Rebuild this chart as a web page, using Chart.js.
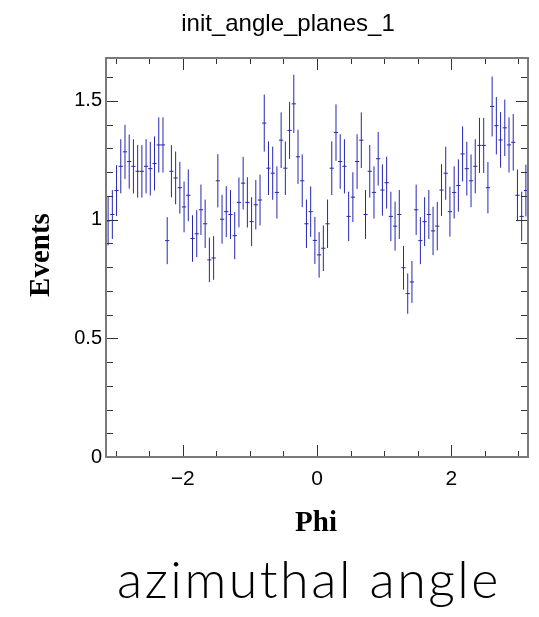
<!DOCTYPE html>
<html>
<head>
<meta charset="utf-8">
<script src="https://cdn.jsdelivr.net/npm/chart.js"></script>
<style>
  html, body { margin: 0; padding: 0; background: #fff; }
  #wrap { position: relative; width: 539px; height: 617px; }
</style>
</head>
<body>
<div id="wrap"><canvas id="phiChart"></canvas></div>
<script>
// Histogram: 100 bins over [-pi, pi]
const nBins = 100;
const binLow = -Math.PI;
const binHigh = Math.PI;

// Bin contents
const values = [
    0.994, 1.021, 1.122, 1.224, 1.285, 1.244, 1.224, 1.203, 1.203, 1.224,
    1.214, 1.236, 1.314, 1.314, 0.911, 1.203, 1.175, 1.134, 1.053, 1.102,
    0.920, 0.940, 1.041, 0.982, 0.830, 0.838, 1.163, 1.001, 1.033, 1.021,
    0.932, 1.072, 1.153, 1.072, 0.991, 1.062, 1.082, 1.406, 1.216, 1.195,
    1.114, 1.334, 1.216, 1.375, 1.487, 1.264, 1.163, 0.982, 1.033, 0.912,
    0.851, 0.879, 0.982, 1.216, 1.366, 1.244, 1.224, 1.013, 1.094, 1.244,
    1.334, 1.021, 1.203, 1.114, 1.256, 1.124, 1.155, 1.013, 0.972, 1.021,
    0.797, 0.688, 0.737, 1.041, 0.911, 0.991, 1.021, 0.952, 0.972, 1.124,
    1.195, 1.033, 1.114, 1.143, 1.276, 1.214, 1.163, 1.224, 1.312, 1.312,
    1.134, 1.476, 1.395, 1.335, 1.386, 1.314, 1.325, 1.102, 1.013, 1.122
];

// Error bar half lengths
const errors = [
    0.103, 0.103, 0.107, 0.114, 0.114, 0.114, 0.114, 0.111, 0.110, 0.114,
    0.113, 0.114, 0.116, 0.116, 0.099, 0.110, 0.111, 0.109, 0.107, 0.109,
    0.098, 0.099, 0.106, 0.102, 0.094, 0.092, 0.112, 0.103, 0.107, 0.103,
    0.099, 0.105, 0.111, 0.106, 0.103, 0.104, 0.107, 0.120, 0.113, 0.112,
    0.110, 0.117, 0.113, 0.120, 0.123, 0.114, 0.111, 0.102, 0.106, 0.099,
    0.096, 0.096, 0.102, 0.113, 0.119, 0.115, 0.114, 0.104, 0.105, 0.115,
    0.117, 0.103, 0.111, 0.110, 0.113, 0.108, 0.109, 0.104, 0.103, 0.103,
    0.092, 0.085, 0.088, 0.106, 0.099, 0.103, 0.103, 0.102, 0.102, 0.109,
    0.112, 0.105, 0.110, 0.110, 0.116, 0.113, 0.111, 0.114, 0.116, 0.116,
    0.108, 0.126, 0.121, 0.117, 0.119, 0.116, 0.119, 0.109, 0.104, 0.109
];

// Axis ticks
const xMajor = [-2, 0, 2];
const xMinor = [-3, -2.5, -1.5, -1, -0.5, 0.5, 1, 1.5, 2.5, 3];
const yMajor = [0, 0.5, 1, 1.5];
const yMinor = [0.1, 0.2, 0.3, 0.4, 0.6, 0.7, 0.8, 0.9, 1.1, 1.2, 1.3, 1.4, 1.6];

const binWidth = (binHigh - binLow) / nBins;
const points = values.map((v, i) => ({ x: binLow + (i + 0.5) * binWidth, y: v }));

// Error bars + bin-width markers
const errorBars = {
    id: 'errorBars',
    afterDatasetsDraw(chart) {
        const { ctx, scales: { x, y } } = chart;
        ctx.save();
        ctx.strokeStyle = '#2626b4';
        ctx.lineWidth = 1;
        ctx.beginPath();
        points.forEach((p, i) => {
            const px = x.getPixelForValue(p.x);
            const py = y.getPixelForValue(p.y);
            ctx.moveTo(px, y.getPixelForValue(p.y + errors[i]));
            ctx.lineTo(px, y.getPixelForValue(p.y - errors[i]));
            ctx.moveTo(x.getPixelForValue(p.x - binWidth / 2), py);
            ctx.lineTo(x.getPixelForValue(p.x + binWidth / 2), py);
        });
        ctx.stroke();
        ctx.restore();
    }
};

// ROOT style frame with inner ticks, titles
const frameAndText = {
    id: 'frameAndText',
    afterDraw(chart) {
        const { ctx, chartArea: a, scales: { x, y } } = chart;
        ctx.save();
        ctx.strokeStyle = '#333';
        ctx.lineWidth = 1;
        ctx.beginPath();
        const xTick = (v, len) => {
            const px = Math.round(x.getPixelForValue(v)) + 0.5;
            ctx.moveTo(px, a.bottom); ctx.lineTo(px, a.bottom - len);
            ctx.moveTo(px, a.top); ctx.lineTo(px, a.top + len);
        };
        const yTick = (v, len) => {
            const py = Math.round(y.getPixelForValue(v)) + 0.5;
            ctx.moveTo(a.left, py); ctx.lineTo(a.left + len, py);
            ctx.moveTo(a.right, py); ctx.lineTo(a.right - len, py);
        };
        xMajor.forEach(v => xTick(v, 12));
        xMinor.forEach(v => xTick(v, 6));
        yMajor.forEach(v => yTick(v, 12));
        yMinor.forEach(v => yTick(v, 7));
        ctx.stroke();

        ctx.strokeStyle = '#7a7a7a';
        ctx.lineWidth = 2;
        ctx.strokeRect(a.left, a.top, a.right - a.left, a.bottom - a.top);

        ctx.fillStyle = '#000';
        ctx.textAlign = 'center';
        ctx.textBaseline = 'alphabetic';
        ctx.font = '24px "Liberation Sans", Arial, sans-serif';
        ctx.fillText('init_angle_planes_1', 288, 31);

        ctx.font = 'bold 29px "Liberation Serif", "Times New Roman", serif';
        ctx.fillText('Phi', 316, 531);
        ctx.save();
        ctx.translate(49, 255);
        ctx.rotate(-Math.PI / 2);
        ctx.fillText('Events', 0, 0);
        ctx.restore();

        ctx.font = '300 52px Lato, "Noto Sans CJK JP", sans-serif';
        ctx.letterSpacing = '2.5px';
        ctx.fillText('azimuthal angle', 309, 598);
        ctx.restore();
    }
};

const fmt = v => (v < 0 ? '\u2212' + (-v) : String(v));

new Chart(document.getElementById('phiChart'), {
    type: 'scatter',
    data: {
        datasets: [{
            data: points,
            pointRadius: 0,
            showLine: false
        }]
    },
    options: {
        responsive: true,
        maintainAspectRatio: false,
        devicePixelRatio: 1,
        animation: false,
        layout: { padding: { left: 0, top: 58, right: 11, bottom: 120 } },
        plugins: {
            legend: { display: false },
            tooltip: { enabled: false }
        },
        scales: {
            x: {
                type: 'linear',
                min: binLow,
                max: binHigh,
                grid: { display: false, drawTicks: false },
                border: { display: false },
                afterBuildTicks: s => { s.ticks = xMajor.map(v => ({ value: v })); },
                afterFit: s => { s.height = 40; },
                ticks: {
                    padding: 10,
                    color: '#000',
                    maxRotation: 0,
                    font: { family: '"Liberation Sans", Arial, sans-serif', size: 21 },
                    callback: v => fmt(v)
                }
            },
            y: {
                min: 0,
                max: 1.68,
                grid: { display: false, drawTicks: false },
                border: { display: false },
                afterBuildTicks: s => { s.ticks = yMajor.map(v => ({ value: v })); },
                afterFit: s => { s.width = 106; },
                ticks: {
                    padding: 4,
                    color: '#000',
                    font: { family: '"Liberation Sans", Arial, sans-serif', size: 20 },
                    callback: v => String(v)
                }
            }
        }
    },
    plugins: [errorBars, frameAndText]
});
</script>
</body>
</html>
